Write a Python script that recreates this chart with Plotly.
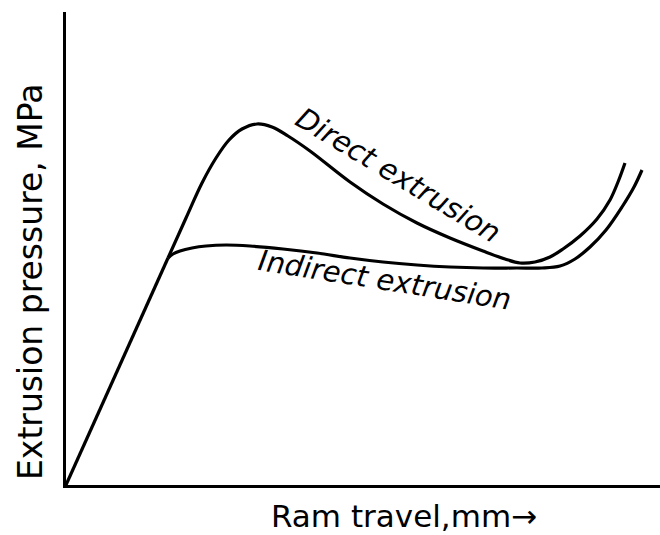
import plotly.graph_objects as go

# Ram travel (arbitrary units) and extrusion pressure (arbitrary units)
# Shared elastic rise, then the two curves branch apart
rise_x = [0, 102]
rise_y = [0, 227]

direct_x = [102, 120, 136, 150, 163, 176, 191, 206, 222, 244, 284, 317, 351, 384, 417, 439, 454, 469, 484, 497, 514, 531, 544, 552, 559]
direct_y = [227, 267, 302, 327, 345, 356, 361, 358, 349, 334, 303, 281, 262, 247, 234, 226, 222, 223, 228, 236, 249, 266, 285, 303, 322]

indirect_x = [102, 107, 114, 126, 140, 160, 184, 217, 251, 284, 317, 351, 384, 417, 451, 476, 494, 509, 524, 540, 556, 568, 576]
indirect_y = [227, 231, 234, 237, 239, 240, 239, 236, 232, 227, 223, 220, 218, 217, 217, 217, 219, 226, 238, 255, 278, 298, 315]

fig = go.Figure()
fig.add_trace(go.Scatter(
    x=rise_x, y=rise_y, mode="lines",
    line=dict(color="black", width=3.2),
    showlegend=False, hoverinfo="skip",
))
for xs, ys in [(direct_x, direct_y), (indirect_x, indirect_y)]:
    fig.add_trace(go.Scatter(
        x=xs, y=ys, mode="lines",
        line=dict(color="black", width=3.2, shape="spline", smoothing=1.0),
        showlegend=False, hoverinfo="skip",
    ))

label_font = dict(family="DejaVu Sans", size=29, color="black")

fig.add_annotation(x=332, y=310, xref="x", yref="y", text="<i>Direct extrusion</i>",
                   showarrow=False, textangle=31, font=label_font)
fig.add_annotation(x=319, y=205, xref="x", yref="y", text="<i>Indirect extrusion</i>",
                   showarrow=False, textangle=9, font=label_font)

# Axis titles positioned in page pixels, converted to the plot's paper fractions
PL, PT, PW, PH = 66, 12, 594, 473


def page_to_paper(px, py):
    return (px - PL) / PW, (PT + PH - py) / PH


yx, yy = page_to_paper(30, 282)
fig.add_annotation(x=yx, y=yy, xref="paper", yref="paper", xanchor="center", yanchor="middle",
                   text="Extrusion pressure, MPa", showarrow=False, textangle=-90,
                   font=dict(family="DejaVu Sans", size=33, color="black"))
xx, xy = page_to_paper(404, 516)
fig.add_annotation(x=xx, y=xy, xref="paper", yref="paper", xanchor="center", yanchor="middle",
                   text="Ram travel,mm→", showarrow=False,
                   font=dict(family="DejaVu Sans", size=31, color="black"))

fig.update_layout(
    width=660, height=535,
    margin=dict(l=PL, r=660 - PL - PW, t=PT, b=535 - PT - PH),
    paper_bgcolor="white", plot_bgcolor="white",
    xaxis=dict(range=[0, 594], showgrid=False, zeroline=False, showticklabels=False,
               ticks="", showline=True, linecolor="black", linewidth=3),
    yaxis=dict(range=[0, 473], showgrid=False, zeroline=False, showticklabels=False,
               ticks="", showline=True, linecolor="black", linewidth=3),
)

fig.write_html("out.html")
